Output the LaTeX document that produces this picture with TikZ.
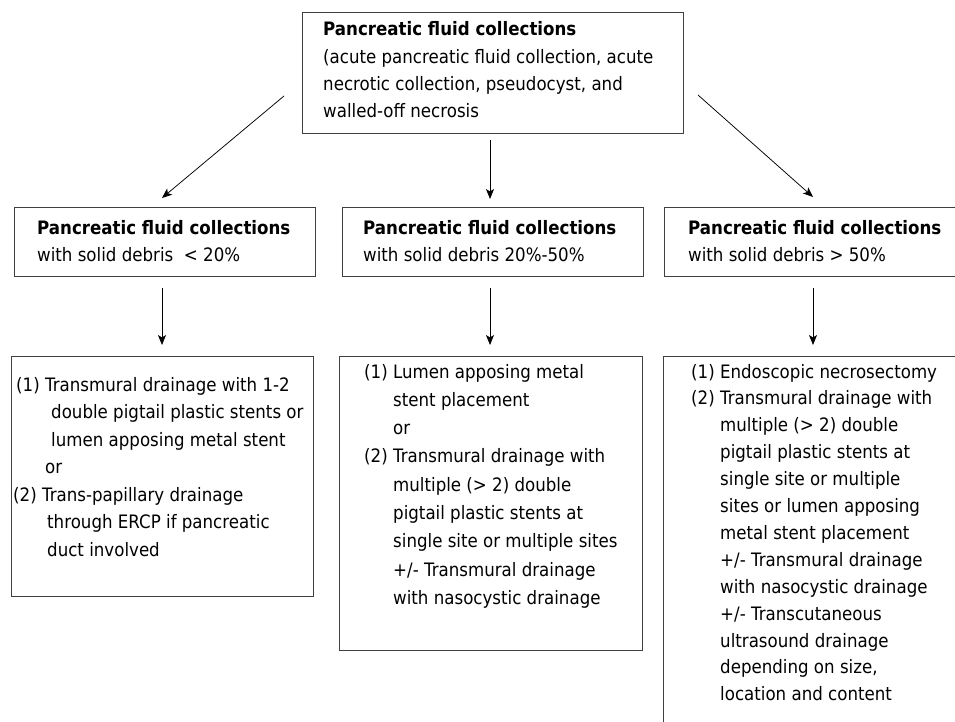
\documentclass[tikz,border=0pt]{standalone}
\usepackage{fontspec}
\setmainfont{DejaVu Sans}[FakeStretch=0.9]
\usetikzlibrary{arrows.meta}
\newcommand{\ind}[1]{\hspace*{#1pt}}
\begin{document}
\begin{tikzpicture}[x=1pt,y=-1pt,
  boxstyle/.style={draw=black!75, line width=1.1pt, inner sep=0pt, anchor=north west},
  txt/.style={anchor=base west, inner sep=0pt, align=left},
  arr/.style={draw=black, line width=0.75pt, -{Stealth[length=10pt,width=8pt,inset=2.5pt]}}]
\clip (0,0) rectangle (955,722);
\fill[white] (0,0) rectangle (955,722);
% boxes
\node[boxstyle, minimum width=381pt, minimum height=121pt] (top) at (302,12) {};
\node[boxstyle, minimum width=301pt, minimum height=69pt] (bl) at (14,207) {};
\node[boxstyle, minimum width=301pt, minimum height=69pt] (bm) at (342,207) {};
\node[boxstyle, minimum width=330pt, minimum height=69pt] (br) at (664,207) {};
\node[boxstyle, minimum width=302pt, minimum height=240pt] (cl) at (11,356) {};
\node[boxstyle, minimum width=303pt, minimum height=294pt] (cm) at (339,356) {};
\node[boxstyle, minimum width=330pt, minimum height=400pt] (cr) at (663,356) {};
% texts (anchor = baseline of the last line)
\node[txt, font=\fontsize{18.5}{27.3}\selectfont] (ttop) at (323,117.9) {\textbf{Pancreatic fluid collections}\\
(acute pancreatic fluid collection, acute\\
necrotic collection, pseudocyst, and\\
walled-off necrosis};
\node[txt, font=\fontsize{18.5}{27}\selectfont] (tbl) at (37,261) {\textbf{Pancreatic fluid collections}\\
with solid debris\ \ < 20\%};
\node[txt, font=\fontsize{18.5}{27}\selectfont] (tbm) at (363,261) {\textbf{Pancreatic fluid collections}\\
with solid debris 20\%-50\%};
\node[txt, font=\fontsize{18.5}{27}\selectfont] (tbr) at (688,261) {\textbf{Pancreatic fluid collections}\\
with solid debris > 50\%};
\node[txt, font=\fontsize{18.5}{27.5}\selectfont] (tcl) at (13,556) {\ind{3}(1) Transmural drainage with 1-2\\
\ind{38}double pigtail plastic stents or\\
\ind{38}lumen apposing metal stent\\
\ind{32}or\\
(2) Trans-papillary drainage\\
\ind{34}through ERCP if pancreatic\\
\ind{34}duct involved};
\node[txt, font=\fontsize{18.5}{28.3}\selectfont] (tcm) at (364,604.4) {(1) Lumen apposing metal\\
\ind{29}stent placement\\
\ind{29}or\\
(2) Transmural drainage with\\
\ind{29}multiple (> 2) double\\
\ind{29}pigtail plastic stents at\\
\ind{29}single site or multiple sites\\
\ind{29}+/- Transmural drainage\\
\ind{29}with nasocystic drainage};
\node[txt, font=\fontsize{18.5}{26.9}\selectfont] (tcr) at (691,700.8) {(1) Endoscopic necrosectomy\\
(2) Transmural drainage with\\
\ind{29}multiple (> 2) double\\
\ind{29}pigtail plastic stents at\\
\ind{29}single site or multiple\\
\ind{29}sites or lumen apposing\\
\ind{29}metal stent placement\\
\ind{29}+/- Transmural drainage\\
\ind{29}with nasocystic drainage\\
\ind{29}+/- Transcutaneous\\
\ind{29}ultrasound drainage\\
\ind{29}depending on size,\\
\ind{29}location and content};
% connector ends
\coordinate (a1s) at (284,96);
\coordinate (a1e) at (162,198);
\coordinate (a2s) at (490,140);
\coordinate (a2e) at (490,199);
\coordinate (a3s) at (698,95);
\coordinate (a3e) at (813,197);
\coordinate (b1s) at (162,288);
\coordinate (b1e) at (162,345);
\coordinate (b2s) at (490,288);
\coordinate (b2e) at (490,345);
\coordinate (b3s) at (813,288);
\coordinate (b3e) at (813,345);
\draw[arr] (a1s) -- (a1e);
\draw[arr] (a2s) -- (a2e);
\draw[arr] (a3s) -- (a3e);
\draw[arr] (b1s) -- (b1e);
\draw[arr] (b2s) -- (b2e);
\draw[arr] (b3s) -- (b3e);
\end{tikzpicture}
\end{document}
